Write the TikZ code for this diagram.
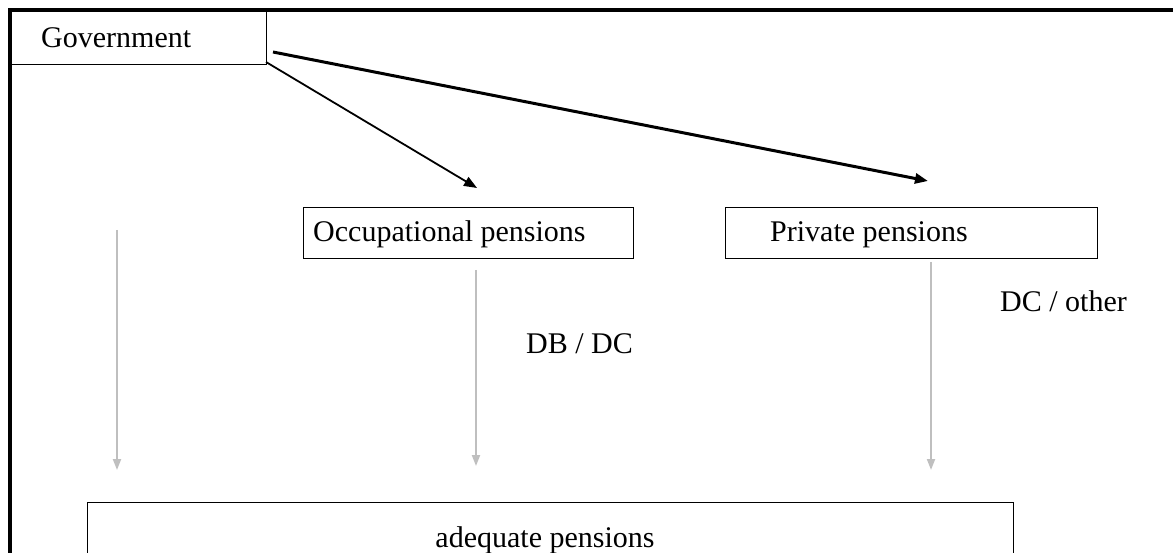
\documentclass[tikz,border=0pt]{standalone}
\usepackage{fontspec}
\setmainfont{Liberation Serif}
\usetikzlibrary{arrows.meta}
\begin{document}
\begin{tikzpicture}[x=1pt,y=-1pt,
  box/.style={draw, line width=1.3pt, inner sep=0pt, anchor=north west},
  lbl/.style={font=\fontsize{30}{33}\selectfont, anchor=base west, inner sep=0pt},
  blackarrow/.style={draw=black, -{Triangle[width=10pt,length=13pt]}},
  grayarrow/.style={draw=black!25, line width=2pt, -{Triangle[width=8pt,length=11pt]}}]
\useasboundingbox (0,0) rectangle (1173,553);
% outer frame
\draw[line width=3.5pt] (10,560) -- (10,10) -- (1180,10);
% boxes
\node[box, minimum width=256pt, minimum height=54pt] (gov) at (10,10) {};
\node[box, minimum width=330pt, minimum height=51pt] (occ) at (303,207) {};
\node[box, minimum width=372pt, minimum height=51pt] (priv) at (725,207) {};
\node[box, minimum width=926pt, minimum height=80pt] (adq) at (87,502) {};
% labels
\node[lbl] (govt) at (41,48) {Government};
\node[lbl] (occt) at (313,242) {Occupational pensions};
\node[lbl] (privt) at (770,242) {Private pensions};
\node[lbl] (dbdc) at (526,353) {DB / DC};
\node[lbl] (dcot) at (1000,312) {DC / other};
\node[lbl, anchor=base] (adqt) at (545,547) {adequate pensions};
% connector end points
\coordinate (g1) at (273,52);
\coordinate (g2) at (266,62);
\coordinate (pe) at (928,181);
\coordinate (oe) at (477,188);
\coordinate (l0) at (117,230);
\coordinate (l1) at (117,470);
\coordinate (m0) at (476,270);
\coordinate (m1) at (476,466);
\coordinate (r0) at (931,262);
\coordinate (r1) at (931,470);
% connectors
\draw[blackarrow, line width=3pt] (g1) -- (pe);
\draw[blackarrow, line width=1.8pt] (g2) -- (oe);
\draw[grayarrow] (l0) -- (l1);
\draw[grayarrow] (m0) -- (m1);
\draw[grayarrow] (r0) -- (r1);
\end{tikzpicture}
\end{document}
